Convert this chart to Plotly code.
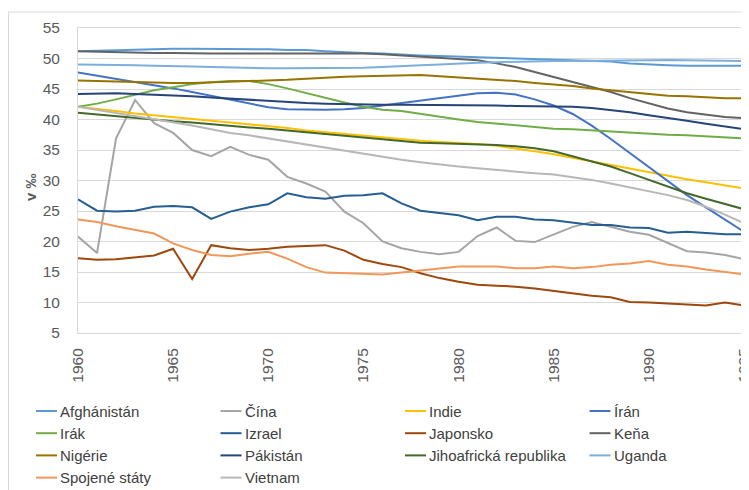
import plotly.graph_objs as go

years = list(range(1960, 1996))

afghanistan = [51.2, 51.3, 51.4, 51.5, 51.5, 51.6, 51.6, 51.6, 51.6, 51.5, 51.5, 51.4,
               51.4, 51.2, 51.0, 50.9, 50.8, 50.6, 50.5, 50.4, 50.3, 50.3, 50.2, 50.1,
               50.0, 49.9, 49.8, 49.6, 49.5, 49.2, 49.0, 48.9, 48.8, 48.8, 48.8, 48.8]
cina = [20.8, 18.1, 36.9, 43.2, 39.4, 37.8, 35.0, 34.0, 35.5, 34.2, 33.4, 30.6,
        29.5, 28.2, 24.9, 23.0, 20.0, 18.9, 18.3, 17.9, 18.3, 20.9, 22.3, 20.1,
        19.9, 21.1, 22.4, 23.2, 22.4, 21.6, 21.1, 19.7, 18.4, 18.2, 17.8, 17.1]
indie = [42.1, 41.8, 41.4, 41.0, 40.7, 40.5, 40.2, 39.9, 39.6, 39.2, 38.9, 38.6,
         38.2, 37.9, 37.6, 37.3, 37.0, 36.7, 36.5, 36.3, 36.2, 36.0, 35.7, 35.3,
         34.8, 34.3, 33.7, 33.1, 32.5, 31.9, 31.3, 30.8, 30.2, 29.7, 29.2, 28.7]
iran = [47.7, 47.2, 46.7, 46.1, 45.6, 45.1, 44.5, 43.9, 43.3, 42.7, 42.0, 41.7,
        41.6, 41.6, 41.7, 41.9, 42.3, 42.7, 43.2, 43.6, 44.0, 44.3, 44.4, 44.1,
        43.3, 42.3, 40.9, 39.0, 36.8, 34.5, 32.2, 29.8, 27.6, 25.6, 23.6, 21.6]
irak = [42.1, 42.6, 43.3, 44.1, 44.8, 45.3, 45.8, 46.1, 46.3, 46.3, 45.8, 45.1,
        44.3, 43.5, 42.8, 42.1, 41.6, 41.4, 40.9, 40.4, 40.0, 39.6, 39.3, 39.0,
        38.7, 38.5, 38.4, 38.2, 38.1, 37.9, 37.7, 37.5, 37.4, 37.2, 37.0, 36.9]
izrael = [26.9, 25.05, 24.9, 25.05, 25.7, 25.8, 25.6, 23.7, 24.9, 25.6, 26.1, 27.9,
          27.25, 27.0, 27.5, 27.6, 27.9, 26.25, 25.05, 24.7, 24.3, 23.5, 24.05, 24.05,
          23.6, 23.5, 23.15, 22.7, 22.7, 22.3, 22.2, 21.45, 21.6, 21.35, 21.2, 21.2]
japonsko = [17.25, 17.0, 17.1, 17.35, 17.7, 18.8, 13.85, 19.4, 18.9, 18.6, 18.8, 19.15,
            19.25, 19.4, 18.5, 17.0, 16.3, 15.8, 14.8, 14.0, 13.4, 12.9, 12.75, 12.6,
            12.3, 11.9, 11.4, 11.1, 10.85, 10.1, 10.0, 9.85, 9.75, 9.5, 10.0, 9.5]
kena = [51.2, 51.1, 51.0, 50.9, 50.9, 50.9, 50.8, 50.8, 50.8, 50.8, 50.8, 50.8,
        50.9, 50.9, 50.9, 50.8, 50.7, 50.5, 50.3, 50.1, 49.9, 49.7, 49.2, 48.6,
        47.8, 47.0, 46.2, 45.4, 44.5, 43.5, 42.6, 41.8, 41.2, 40.8, 40.4, 40.2]
nigerie = [46.4, 46.3, 46.2, 46.1, 46.0, 46.0, 46.0, 46.1, 46.1, 46.2, 46.3, 46.5,
           46.7, 46.9, 47.0, 47.1, 47.2, 47.3, 47.3, 47.1, 46.9, 46.75, 46.5, 46.3,
           46.0, 45.8, 45.5, 45.1, 44.8, 44.5, 44.2, 43.9, 43.8, 43.6, 43.5, 43.5]
pakistan = [44.2, 44.3, 44.3, 44.2, 44.1, 44.0, 43.8, 43.6, 43.4, 43.2, 43.0, 42.9,
            42.7, 42.6, 42.5, 42.5, 42.4, 42.4, 42.4, 42.3, 42.3, 42.3, 42.3, 42.2,
            42.2, 42.2, 42.1, 41.9, 41.6, 41.2, 40.7, 40.3, 39.8, 39.3, 38.9, 38.4]
jar = [41.1, 40.8, 40.5, 40.2, 39.9, 39.7, 39.5, 39.2, 39.0, 38.7, 38.5, 38.2,
       38.0, 37.7, 37.4, 37.1, 36.8, 36.4, 36.2, 36.1, 36.0, 36.0, 35.8, 35.6,
       35.3, 34.8, 34.0, 33.2, 32.3, 31.2, 30.1, 29.0, 27.9, 27.0, 26.1, 25.3]
uganda = [49.0, 49.0, 48.9, 48.9, 48.8, 48.8, 48.7, 48.6, 48.5, 48.5, 48.4, 48.4,
          48.4, 48.4, 48.4, 48.5, 48.6, 48.8, 48.9, 49.0, 49.2, 49.3, 49.4, 49.5,
          49.6, 49.6, 49.6, 49.6, 49.6, 49.7, 49.7, 49.75, 49.7, 49.7, 49.6, 49.6]
usa = [23.6, 23.2, 22.5, 21.9, 21.3, 19.7, 18.6, 17.8, 17.6, 18.0, 18.3, 17.2,
       15.8, 14.9, 14.8, 14.6, 14.6, 14.9, 15.2, 15.6, 15.9, 15.9, 15.9, 15.6,
       15.6, 15.9, 15.6, 15.8, 16.2, 16.4, 16.8, 16.2, 15.9, 15.4, 15.05, 14.6]
vietnam = [42.1, 41.6, 41.0, 40.5, 40.0, 39.5, 39.0, 38.4, 37.8, 37.4, 36.9, 36.4,
           35.9, 35.4, 34.8, 34.3, 33.9, 33.4, 33.0, 32.6, 32.3, 32.0, 31.7, 31.5,
           31.2, 31.0, 30.6, 30.1, 29.5, 28.9, 28.3, 27.6, 26.8, 25.7, 24.4, 23.0]

names = ["Afghánistán", "Čína", "Indie", "Írán", "Irák", "Izrael", "Japonsko", "Keňa",
         "Nigérie", "Pákistán", "Jihoafrická republika", "Uganda", "Spojené státy", "Vietnam"]
values = [afghanistan, cina, indie, iran, irak, izrael, japonsko, kena,
          nigerie, pakistan, jar, uganda, usa, vietnam]
colors = ["#5B9BD5", "#A5A5A5", "#FFC000", "#4472C4", "#70AD47", "#255E91", "#9E480E",
          "#636363", "#997300", "#264478", "#43682B", "#7CAFDD", "#F1975A", "#B7B7B7"]

# page has an 8px body margin, so work in figure pixels = screen pixels - 8
OFF = 8
W, H = 741, 482
L, R, T, B = 70, 5, 20, 157


def px(x):
    return (x - OFF - L) / (W - L - R)


def py(y):
    return (H - B - (y - OFF)) / (H - T - B)


fig = go.Figure()
for name, vals, color in zip(names, values, colors):
    fig.add_trace(go.Scatter(x=years, y=vals, mode="lines", name=name,
                             line=dict(color=color, width=2), showlegend=False))

tick_font = dict(family="Liberation Sans, Arial, sans-serif", size=15.5, color="#595959")

# legend drawn by hand: 4 columns, short line + label
shapes = [
    dict(type="line", xref="paper", yref="paper", x0=px(8.5), x1=px(770),
         y0=py(12), y1=py(12), line=dict(color="#d9d9d9", width=1)),
    dict(type="line", xref="paper", yref="paper", x0=px(8.5), x1=px(8.5),
         y0=py(12), y1=py(500), line=dict(color="#d9d9d9", width=1)),
]
annotations = [dict(text="<b>v ‰</b>", textangle=-90, showarrow=False,
                    xref="paper", yref="paper", x=px(30), y=py(187),
                    xanchor="center", yanchor="middle",
                    font=dict(family="Liberation Sans, Arial, sans-serif",
                              size=15, color="#595959"))]
for i, (name, color) in enumerate(zip(names, colors)):
    col, row = i % 4, i // 4
    x0 = 36 + 184.5 * col
    yc = 411 + 22.2 * row
    shapes.append(dict(type="line", xref="paper", yref="paper",
                       x0=px(x0), x1=px(x0 + 21), y0=py(yc), y1=py(yc),
                       line=dict(color=color, width=2)))
    annotations.append(dict(text=name, showarrow=False, xref="paper", yref="paper",
                            x=px(x0 + 22), y=py(yc), xanchor="left", yanchor="middle",
                            font=dict(family="Liberation Sans, Arial, sans-serif",
                                      size=15, color="#404040")))

fig.update_layout(
    width=W, height=H,
    margin=dict(l=L, r=R, t=T, b=B),
    paper_bgcolor="white", plot_bgcolor="white",
    showlegend=False,
    xaxis=dict(range=[1960, 1995], tick0=1960, dtick=5, tickangle=-90,
               tickfont=tick_font, showgrid=False, zeroline=False,
               showline=True, linecolor="#d9d9d9", mirror=True, ticks="",
               ticklabeloverflow="allow", ticklabelstandoff=8, automargin=False),
    yaxis=dict(range=[5, 55], tick0=5, dtick=5, tickfont=tick_font,
               gridcolor="#d9d9d9", zeroline=False,
               showline=True, linecolor="#d9d9d9", mirror=True, ticks="",
               ticklabelstandoff=14, automargin=False),
    annotations=annotations,
    shapes=shapes,
)

fig.write_html("out.html")
